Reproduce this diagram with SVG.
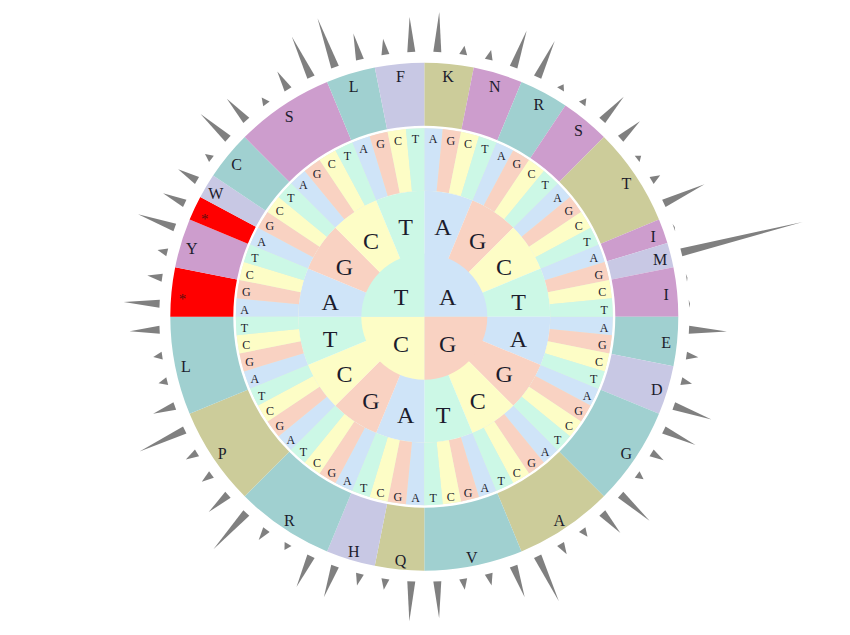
<svg xmlns="http://www.w3.org/2000/svg" width="850" height="635" viewBox="0 0 850 635">
<style>
.bg{fill:#ffffff}
.cA{stroke:#cfe4f8}.cG{stroke:#f9d2c2}.cC{stroke:#fdfdc6}.cT{stroke:#ccf8e6}
.fA{fill:#cfe4f8}.fG{fill:#f9d2c2}.fC{fill:#fdfdc6}.fT{fill:#ccf8e6}
.r3{fill:none;stroke-width:62.5}
.aa{fill:none;stroke-width:63}
.teal{stroke:#a0d0d0}.pink{stroke:#cd9dcd}.lav{stroke:#c8c8e4}.olive{stroke:#cccc9a}.red{stroke:#ff0000}
.sp{fill:#808080}
text{font-family:"Liberation Serif","Times New Roman",serif;fill:#1c1c2c;text-anchor:middle;dominant-baseline:central}
.t1{font-size:24px}.t2{font-size:24px}.t3{font-size:12px}.t4{font-size:16px}.st{font-size:15px;fill:#5a1010}
</style>
<rect class="bg" x="0" y="0" width="850" height="635"/>
<g transform="translate(424.3 316.7)">
<g id="ring2">
<path class="fA" d="M0,0 L0,-126 A126,126 0 0 1 48.218,-116.409 Z"/>
<path class="fG" d="M0,0 L48.218,-116.409 A126,126 0 0 1 89.095,-89.095 Z"/>
<path class="fC" d="M0,0 L89.095,-89.095 A126,126 0 0 1 116.409,-48.218 Z"/>
<path class="fT" d="M0,0 L116.409,-48.218 A126,126 0 0 1 126,0 Z"/>
<path class="fA" d="M0,0 L126,0 A126,126 0 0 1 116.409,48.218 Z"/>
<path class="fG" d="M0,0 L116.409,48.218 A126,126 0 0 1 89.095,89.095 Z"/>
<path class="fC" d="M0,0 L89.095,89.095 A126,126 0 0 1 48.218,116.409 Z"/>
<path class="fT" d="M0,0 L48.218,116.409 A126,126 0 0 1 0,126 Z"/>
<path class="fA" d="M0,0 L0,126 A126,126 0 0 1 -48.218,116.409 Z"/>
<path class="fG" d="M0,0 L-48.218,116.409 A126,126 0 0 1 -89.095,89.095 Z"/>
<path class="fC" d="M0,0 L-89.095,89.095 A126,126 0 0 1 -116.409,48.218 Z"/>
<path class="fT" d="M0,0 L-116.409,48.218 A126,126 0 0 1 -126,0 Z"/>
<path class="fA" d="M0,0 L-126,0 A126,126 0 0 1 -116.409,-48.218 Z"/>
<path class="fG" d="M0,0 L-116.409,-48.218 A126,126 0 0 1 -89.095,-89.095 Z"/>
<path class="fC" d="M0,0 L-89.095,-89.095 A126,126 0 0 1 -48.218,-116.409 Z"/>
<path class="fT" d="M0,0 L-48.218,-116.409 A126,126 0 0 1 0,-126 Z"/>
</g>
<g id="ring1">
<path class="fA" d="M0,0 V-63 A63,63 0 0 1 63,0 Z"/>
<path class="fG" d="M0,0 H63 A63,63 0 0 1 0,63 Z"/>
<path class="fC" d="M0,0 V63 A63,63 0 0 1 -63,0 Z"/>
<path class="fT" d="M0,0 H-63 A63,63 0 0 1 0,-63 Z"/>
</g>
<g id="ring3" transform="rotate(-90)">
<circle class="r3" stroke="#e2ecdc" r="157.25"/>
<circle class="r3 cA" r="157.25" pathLength="64" stroke-dasharray="1 3" stroke-dashoffset="0"/>
<circle class="r3 cG" r="157.25" pathLength="64" stroke-dasharray="1 3" stroke-dashoffset="3"/>
<circle class="r3 cC" r="157.25" pathLength="64" stroke-dasharray="1 3" stroke-dashoffset="2"/>
<circle class="r3 cT" r="157.25" pathLength="64" stroke-dasharray="1 3" stroke-dashoffset="1"/>
</g>
<g id="ring4" transform="rotate(-90)">
<circle class="aa olive" r="222.5" pathLength="64" stroke-dasharray="0 0 2 200"/>
<circle class="aa pink" r="222.5" pathLength="64" stroke-dasharray="0 2 2 200"/>
<circle class="aa teal" r="222.5" pathLength="64" stroke-dasharray="0 4 2 200"/>
<circle class="aa pink" r="222.5" pathLength="64" stroke-dasharray="0 6 2 200"/>
<circle class="aa olive" r="222.5" pathLength="64" stroke-dasharray="0 8 4 200"/>
<circle class="aa pink" r="222.5" pathLength="64" stroke-dasharray="0 12 1 200"/>
<circle class="aa lav" r="222.5" pathLength="64" stroke-dasharray="0 13 1 200"/>
<circle class="aa pink" r="222.5" pathLength="64" stroke-dasharray="0 14 2 200"/>
<circle class="aa teal" r="222.5" pathLength="64" stroke-dasharray="0 16 2 200"/>
<circle class="aa lav" r="222.5" pathLength="64" stroke-dasharray="0 18 2 200"/>
<circle class="aa teal" r="222.5" pathLength="64" stroke-dasharray="0 20 4 200"/>
<circle class="aa olive" r="222.5" pathLength="64" stroke-dasharray="0 24 4 200"/>
<circle class="aa teal" r="222.5" pathLength="64" stroke-dasharray="0 28 4 200"/>
<circle class="aa olive" r="222.5" pathLength="64" stroke-dasharray="0 32 2 200"/>
<circle class="aa lav" r="222.5" pathLength="64" stroke-dasharray="0 34 2 200"/>
<circle class="aa teal" r="222.5" pathLength="64" stroke-dasharray="0 36 4 200"/>
<circle class="aa olive" r="222.5" pathLength="64" stroke-dasharray="0 40 4 200"/>
<circle class="aa teal" r="222.5" pathLength="64" stroke-dasharray="0 44 4 200"/>
<circle class="aa red" r="222.5" pathLength="64" stroke-dasharray="0 48 2 200"/>
<circle class="aa pink" r="222.5" pathLength="64" stroke-dasharray="0 50 2 200"/>
<circle class="aa red" r="222.5" pathLength="64" stroke-dasharray="0 52 1 200"/>
<circle class="aa lav" r="222.5" pathLength="64" stroke-dasharray="0 53 1 200"/>
<circle class="aa teal" r="222.5" pathLength="64" stroke-dasharray="0 54 2 200"/>
<circle class="aa pink" r="222.5" pathLength="64" stroke-dasharray="0 56 4 200"/>
<circle class="aa teal" r="222.5" pathLength="64" stroke-dasharray="0 60 2 200"/>
<circle class="aa lav" r="222.5" pathLength="64" stroke-dasharray="0 62 2 200"/>
</g>
<g id="spikes">
<polygon class="sp" points="-4,-265 4,-265 0,-305" transform="rotate(2.8125)"/>
<polygon class="sp" points="-4,-265 4,-265 0,-274" transform="rotate(8.4375)"/>
<polygon class="sp" points="-4,-265 4,-265 0,-275" transform="rotate(14.0625)"/>
<polygon class="sp" points="-4,-265 4,-265 0,-304" transform="rotate(19.6875)"/>
<polygon class="sp" points="-4,-265 4,-265 0,-305" transform="rotate(25.3125)"/>
<polygon class="sp" points="-4,-265 4,-265 0,-271" transform="rotate(30.9375)"/>
<polygon class="sp" points="-4,-265 4,-265 0,-272" transform="rotate(36.5625)"/>
<polygon class="sp" points="-4,-265 4,-265 0,-297" transform="rotate(42.1875)"/>
<polygon class="sp" points="-4,-265 4,-265 0,-291" transform="rotate(47.8125)"/>
<polygon class="sp" points="-4,-265 4,-265 0,-270" transform="rotate(53.4375)"/>
<polygon class="sp" points="-4,-265 4,-265 0,-275" transform="rotate(59.0625)"/>
<polygon class="sp" points="-4,-265 4,-265 0,-310" transform="rotate(64.6875)"/>
<polygon class="sp" points="-4,-265 4,-265 0,-266" transform="rotate(70.3125)"/>
<polygon class="sp" points="-4,-265 4,-265 0,-390" transform="rotate(75.9375)"/>
<polygon class="sp" points="-4,-265 4,-265 0,-266" transform="rotate(81.5625)"/>
<polygon class="sp" points="-4,-265 4,-265 0,-266" transform="rotate(87.1875)"/>
<polygon class="sp" points="-4,-265 4,-265 0,-303" transform="rotate(92.8125)"/>
<polygon class="sp" points="-4,-265 4,-265 0,-277" transform="rotate(98.4375)"/>
<polygon class="sp" points="-4,-265 4,-265 0,-276" transform="rotate(104.0625)"/>
<polygon class="sp" points="-4,-265 4,-265 0,-305" transform="rotate(109.6875)"/>
<polygon class="sp" points="-4,-265 4,-265 0,-300" transform="rotate(115.3125)"/>
<polygon class="sp" points="-4,-265 4,-265 0,-279" transform="rotate(120.9375)"/>
<polygon class="sp" points="-4,-265 4,-265 0,-273" transform="rotate(126.5625)"/>
<polygon class="sp" points="-4,-265 4,-265 0,-304" transform="rotate(132.1875)"/>
<polygon class="sp" points="-4,-265 4,-265 0,-292" transform="rotate(137.8125)"/>
<polygon class="sp" points="-4,-265 4,-265 0,-274" transform="rotate(143.4375)"/>
<polygon class="sp" points="-4,-265 4,-265 0,-277" transform="rotate(149.0625)"/>
<polygon class="sp" points="-4,-265 4,-265 0,-315" transform="rotate(154.6875)"/>
<polygon class="sp" points="-4,-265 4,-265 0,-298" transform="rotate(160.3125)"/>
<polygon class="sp" points="-4,-265 4,-265 0,-277" transform="rotate(165.9375)"/>
<polygon class="sp" points="-4,-265 4,-265 0,-276" transform="rotate(171.5625)"/>
<polygon class="sp" points="-4,-265 4,-265 0,-302" transform="rotate(177.1875)"/>
<polygon class="sp" points="-4,-265 4,-265 0,-305" transform="rotate(182.8125)"/>
<polygon class="sp" points="-4,-265 4,-265 0,-276" transform="rotate(188.4375)"/>
<polygon class="sp" points="-4,-265 4,-265 0,-277" transform="rotate(194.0625)"/>
<polygon class="sp" points="-4,-265 4,-265 0,-298" transform="rotate(199.6875)"/>
<polygon class="sp" points="-4,-265 4,-265 0,-299" transform="rotate(205.3125)"/>
<polygon class="sp" points="-4,-265 4,-265 0,-272" transform="rotate(210.9375)"/>
<polygon class="sp" points="-4,-265 4,-265 0,-278" transform="rotate(216.5625)"/>
<polygon class="sp" points="-4,-265 4,-265 0,-314" transform="rotate(222.1875)"/>
<polygon class="sp" points="-4,-265 4,-265 0,-291" transform="rotate(227.8125)"/>
<polygon class="sp" points="-4,-265 4,-265 0,-277" transform="rotate(233.4375)"/>
<polygon class="sp" points="-4,-265 4,-265 0,-278" transform="rotate(239.0625)"/>
<polygon class="sp" points="-4,-265 4,-265 0,-315" transform="rotate(244.6875)"/>
<polygon class="sp" points="-4,-265 4,-265 0,-288" transform="rotate(250.3125)"/>
<polygon class="sp" points="-4,-265 4,-265 0,-274" transform="rotate(255.9375)"/>
<polygon class="sp" points="-4,-265 4,-265 0,-274" transform="rotate(261.5625)"/>
<polygon class="sp" points="-4,-265 4,-265 0,-295" transform="rotate(267.1875)"/>
<polygon class="sp" points="-4,-265 4,-265 0,-301" transform="rotate(272.8125)"/>
<polygon class="sp" points="-4,-265 4,-265 0,-280" transform="rotate(278.4375)"/>
<polygon class="sp" points="-4,-265 4,-265 0,-275" transform="rotate(284.0625)"/>
<polygon class="sp" points="-4,-265 4,-265 0,-304" transform="rotate(289.6875)"/>
<polygon class="sp" points="-4,-265 4,-265 0,-289" transform="rotate(295.3125)"/>
<polygon class="sp" points="-4,-265 4,-265 0,-287" transform="rotate(300.9375)"/>
<polygon class="sp" points="-4,-265 4,-265 0,-273" transform="rotate(306.5625)"/>
<polygon class="sp" points="-4,-265 4,-265 0,-302" transform="rotate(312.1875)"/>
<polygon class="sp" points="-4,-265 4,-265 0,-294" transform="rotate(317.8125)"/>
<polygon class="sp" points="-4,-265 4,-265 0,-273" transform="rotate(323.4375)"/>
<polygon class="sp" points="-4,-265 4,-265 0,-286" transform="rotate(329.0625)"/>
<polygon class="sp" points="-4,-265 4,-265 0,-310" transform="rotate(334.6875)"/>
<polygon class="sp" points="-4,-265 4,-265 0,-317" transform="rotate(340.3125)"/>
<polygon class="sp" points="-4,-265 4,-265 0,-292" transform="rotate(345.9375)"/>
<polygon class="sp" points="-4,-265 4,-265 0,-281" transform="rotate(351.5625)"/>
<polygon class="sp" points="-4,-265 4,-265 0,-300" transform="rotate(357.1875)"/>
</g>
<g id="labels1" class="t1">
<text x="-23.3" y="-19.3">T</text>
<text x="23.3" y="-19.3">A</text>
<text x="-23.3" y="27.3">C</text>
<text x="23.3" y="27.3">G</text>
</g>
<g id="labels2" class="t2">
<text transform="rotate(11.25) translate(0,-96) rotate(-11.25)" y="4">A</text>
<text transform="rotate(33.75) translate(0,-96) rotate(-33.75)" y="4">G</text>
<text transform="rotate(56.25) translate(0,-96) rotate(-56.25)" y="4">C</text>
<text transform="rotate(78.75) translate(0,-96) rotate(-78.75)" y="4">T</text>
<text transform="rotate(101.25) translate(0,-96) rotate(-101.25)" y="4">A</text>
<text transform="rotate(123.75) translate(0,-96) rotate(-123.75)" y="4">G</text>
<text transform="rotate(146.25) translate(0,-96) rotate(-146.25)" y="4">C</text>
<text transform="rotate(168.75) translate(0,-96) rotate(-168.75)" y="4">T</text>
<text transform="rotate(191.25) translate(0,-96) rotate(-191.25)" y="4">A</text>
<text transform="rotate(213.75) translate(0,-96) rotate(-213.75)" y="4">G</text>
<text transform="rotate(236.25) translate(0,-96) rotate(-236.25)" y="4">C</text>
<text transform="rotate(258.75) translate(0,-96) rotate(-258.75)" y="4">T</text>
<text transform="rotate(281.25) translate(0,-96) rotate(-281.25)" y="4">A</text>
<text transform="rotate(303.75) translate(0,-96) rotate(-303.75)" y="4">G</text>
<text transform="rotate(326.25) translate(0,-96) rotate(-326.25)" y="4">C</text>
<text transform="rotate(348.75) translate(0,-96) rotate(-348.75)" y="4">T</text>
</g>
<g id="labels3" class="t3">
<text transform="rotate(2.8125) translate(0,-180) rotate(-2.8125)" y="2">A</text>
<text transform="rotate(8.4375) translate(0,-180) rotate(-8.4375)" y="2">G</text>
<text transform="rotate(14.0625) translate(0,-180) rotate(-14.0625)" y="2">C</text>
<text transform="rotate(19.6875) translate(0,-180) rotate(-19.6875)" y="2">T</text>
<text transform="rotate(25.3125) translate(0,-180) rotate(-25.3125)" y="2">A</text>
<text transform="rotate(30.9375) translate(0,-180) rotate(-30.9375)" y="2">G</text>
<text transform="rotate(36.5625) translate(0,-180) rotate(-36.5625)" y="2">C</text>
<text transform="rotate(42.1875) translate(0,-180) rotate(-42.1875)" y="2">T</text>
<text transform="rotate(47.8125) translate(0,-180) rotate(-47.8125)" y="2">A</text>
<text transform="rotate(53.4375) translate(0,-180) rotate(-53.4375)" y="2">G</text>
<text transform="rotate(59.0625) translate(0,-180) rotate(-59.0625)" y="2">C</text>
<text transform="rotate(64.6875) translate(0,-180) rotate(-64.6875)" y="2">T</text>
<text transform="rotate(70.3125) translate(0,-180) rotate(-70.3125)" y="2">A</text>
<text transform="rotate(75.9375) translate(0,-180) rotate(-75.9375)" y="2">G</text>
<text transform="rotate(81.5625) translate(0,-180) rotate(-81.5625)" y="2">C</text>
<text transform="rotate(87.1875) translate(0,-180) rotate(-87.1875)" y="2">T</text>
<text transform="rotate(92.8125) translate(0,-180) rotate(-92.8125)" y="2">A</text>
<text transform="rotate(98.4375) translate(0,-180) rotate(-98.4375)" y="2">G</text>
<text transform="rotate(104.0625) translate(0,-180) rotate(-104.0625)" y="2">C</text>
<text transform="rotate(109.6875) translate(0,-180) rotate(-109.6875)" y="2">T</text>
<text transform="rotate(115.3125) translate(0,-180) rotate(-115.3125)" y="2">A</text>
<text transform="rotate(120.9375) translate(0,-180) rotate(-120.9375)" y="2">G</text>
<text transform="rotate(126.5625) translate(0,-180) rotate(-126.5625)" y="2">C</text>
<text transform="rotate(132.1875) translate(0,-180) rotate(-132.1875)" y="2">T</text>
<text transform="rotate(137.8125) translate(0,-180) rotate(-137.8125)" y="2">A</text>
<text transform="rotate(143.4375) translate(0,-180) rotate(-143.4375)" y="2">G</text>
<text transform="rotate(149.0625) translate(0,-180) rotate(-149.0625)" y="2">C</text>
<text transform="rotate(154.6875) translate(0,-180) rotate(-154.6875)" y="2">T</text>
<text transform="rotate(160.3125) translate(0,-180) rotate(-160.3125)" y="2">A</text>
<text transform="rotate(165.9375) translate(0,-180) rotate(-165.9375)" y="2">G</text>
<text transform="rotate(171.5625) translate(0,-180) rotate(-171.5625)" y="2">C</text>
<text transform="rotate(177.1875) translate(0,-180) rotate(-177.1875)" y="2">T</text>
<text transform="rotate(182.8125) translate(0,-180) rotate(-182.8125)" y="2">A</text>
<text transform="rotate(188.4375) translate(0,-180) rotate(-188.4375)" y="2">G</text>
<text transform="rotate(194.0625) translate(0,-180) rotate(-194.0625)" y="2">C</text>
<text transform="rotate(199.6875) translate(0,-180) rotate(-199.6875)" y="2">T</text>
<text transform="rotate(205.3125) translate(0,-180) rotate(-205.3125)" y="2">A</text>
<text transform="rotate(210.9375) translate(0,-180) rotate(-210.9375)" y="2">G</text>
<text transform="rotate(216.5625) translate(0,-180) rotate(-216.5625)" y="2">C</text>
<text transform="rotate(222.1875) translate(0,-180) rotate(-222.1875)" y="2">T</text>
<text transform="rotate(227.8125) translate(0,-180) rotate(-227.8125)" y="2">A</text>
<text transform="rotate(233.4375) translate(0,-180) rotate(-233.4375)" y="2">G</text>
<text transform="rotate(239.0625) translate(0,-180) rotate(-239.0625)" y="2">C</text>
<text transform="rotate(244.6875) translate(0,-180) rotate(-244.6875)" y="2">T</text>
<text transform="rotate(250.3125) translate(0,-180) rotate(-250.3125)" y="2">A</text>
<text transform="rotate(255.9375) translate(0,-180) rotate(-255.9375)" y="2">G</text>
<text transform="rotate(261.5625) translate(0,-180) rotate(-261.5625)" y="2">C</text>
<text transform="rotate(267.1875) translate(0,-180) rotate(-267.1875)" y="2">T</text>
<text transform="rotate(272.8125) translate(0,-180) rotate(-272.8125)" y="2">A</text>
<text transform="rotate(278.4375) translate(0,-180) rotate(-278.4375)" y="2">G</text>
<text transform="rotate(284.0625) translate(0,-180) rotate(-284.0625)" y="2">C</text>
<text transform="rotate(289.6875) translate(0,-180) rotate(-289.6875)" y="2">T</text>
<text transform="rotate(295.3125) translate(0,-180) rotate(-295.3125)" y="2">A</text>
<text transform="rotate(300.9375) translate(0,-180) rotate(-300.9375)" y="2">G</text>
<text transform="rotate(306.5625) translate(0,-180) rotate(-306.5625)" y="2">C</text>
<text transform="rotate(312.1875) translate(0,-180) rotate(-312.1875)" y="2">T</text>
<text transform="rotate(317.8125) translate(0,-180) rotate(-317.8125)" y="2">A</text>
<text transform="rotate(323.4375) translate(0,-180) rotate(-323.4375)" y="2">G</text>
<text transform="rotate(329.0625) translate(0,-180) rotate(-329.0625)" y="2">C</text>
<text transform="rotate(334.6875) translate(0,-180) rotate(-334.6875)" y="2">T</text>
<text transform="rotate(340.3125) translate(0,-180) rotate(-340.3125)" y="2">A</text>
<text transform="rotate(345.9375) translate(0,-180) rotate(-345.9375)" y="2">G</text>
<text transform="rotate(351.5625) translate(0,-180) rotate(-351.5625)" y="2">C</text>
<text transform="rotate(357.1875) translate(0,-180) rotate(-357.1875)" y="2">T</text>
</g>
<g id="labels4" class="t4">
<text transform="rotate(5.625) translate(0,-243) rotate(-5.625)" y="2">K</text>
<text transform="rotate(16.875) translate(0,-243) rotate(-16.875)" y="2">N</text>
<text transform="rotate(28.125) translate(0,-243) rotate(-28.125)" y="2">R</text>
<text transform="rotate(39.375) translate(0,-243) rotate(-39.375)" y="2">S</text>
<text transform="rotate(56.25) translate(0,-243) rotate(-56.25)" y="2">T</text>
<text transform="rotate(70.3125) translate(0,-243) rotate(-70.3125)" y="2">I</text>
<text transform="rotate(75.9375) translate(0,-243) rotate(-75.9375)" y="2">M</text>
<text transform="rotate(84.375) translate(0,-243) rotate(-84.375)" y="2">I</text>
<text transform="rotate(95.625) translate(0,-243) rotate(-95.625)" y="2">E</text>
<text transform="rotate(106.875) translate(0,-243) rotate(-106.875)" y="2">D</text>
<text transform="rotate(123.75) translate(0,-243) rotate(-123.75)" y="2">G</text>
<text transform="rotate(146.25) translate(0,-243) rotate(-146.25)" y="2">A</text>
<text transform="rotate(168.75) translate(0,-243) rotate(-168.75)" y="2">V</text>
<text transform="rotate(185.625) translate(0,-243) rotate(-185.625)" y="2">Q</text>
<text transform="rotate(196.875) translate(0,-243) rotate(-196.875)" y="2">H</text>
<text transform="rotate(213.75) translate(0,-243) rotate(-213.75)" y="2">R</text>
<text transform="rotate(236.25) translate(0,-243) rotate(-236.25)" y="2">P</text>
<text transform="rotate(258.75) translate(0,-243) rotate(-258.75)" y="2">L</text>
<text class="st" transform="rotate(275.625) translate(0,-243) rotate(-275.625)" y="6">*</text>
<text transform="rotate(286.875) translate(0,-243) rotate(-286.875)" y="2">Y</text>
<text class="st" transform="rotate(295.3125) translate(0,-243) rotate(-295.3125)" y="6">*</text>
<text transform="rotate(300.9375) translate(0,-243) rotate(-300.9375)" y="2">W</text>
<text transform="rotate(309.375) translate(0,-243) rotate(-309.375)" y="2">C</text>
<text transform="rotate(326.25) translate(0,-243) rotate(-326.25)" y="2">S</text>
<text transform="rotate(343.125) translate(0,-243) rotate(-343.125)" y="2">L</text>
<text transform="rotate(354.375) translate(0,-243) rotate(-354.375)" y="2">F</text>
</g>
</g>
</svg>
